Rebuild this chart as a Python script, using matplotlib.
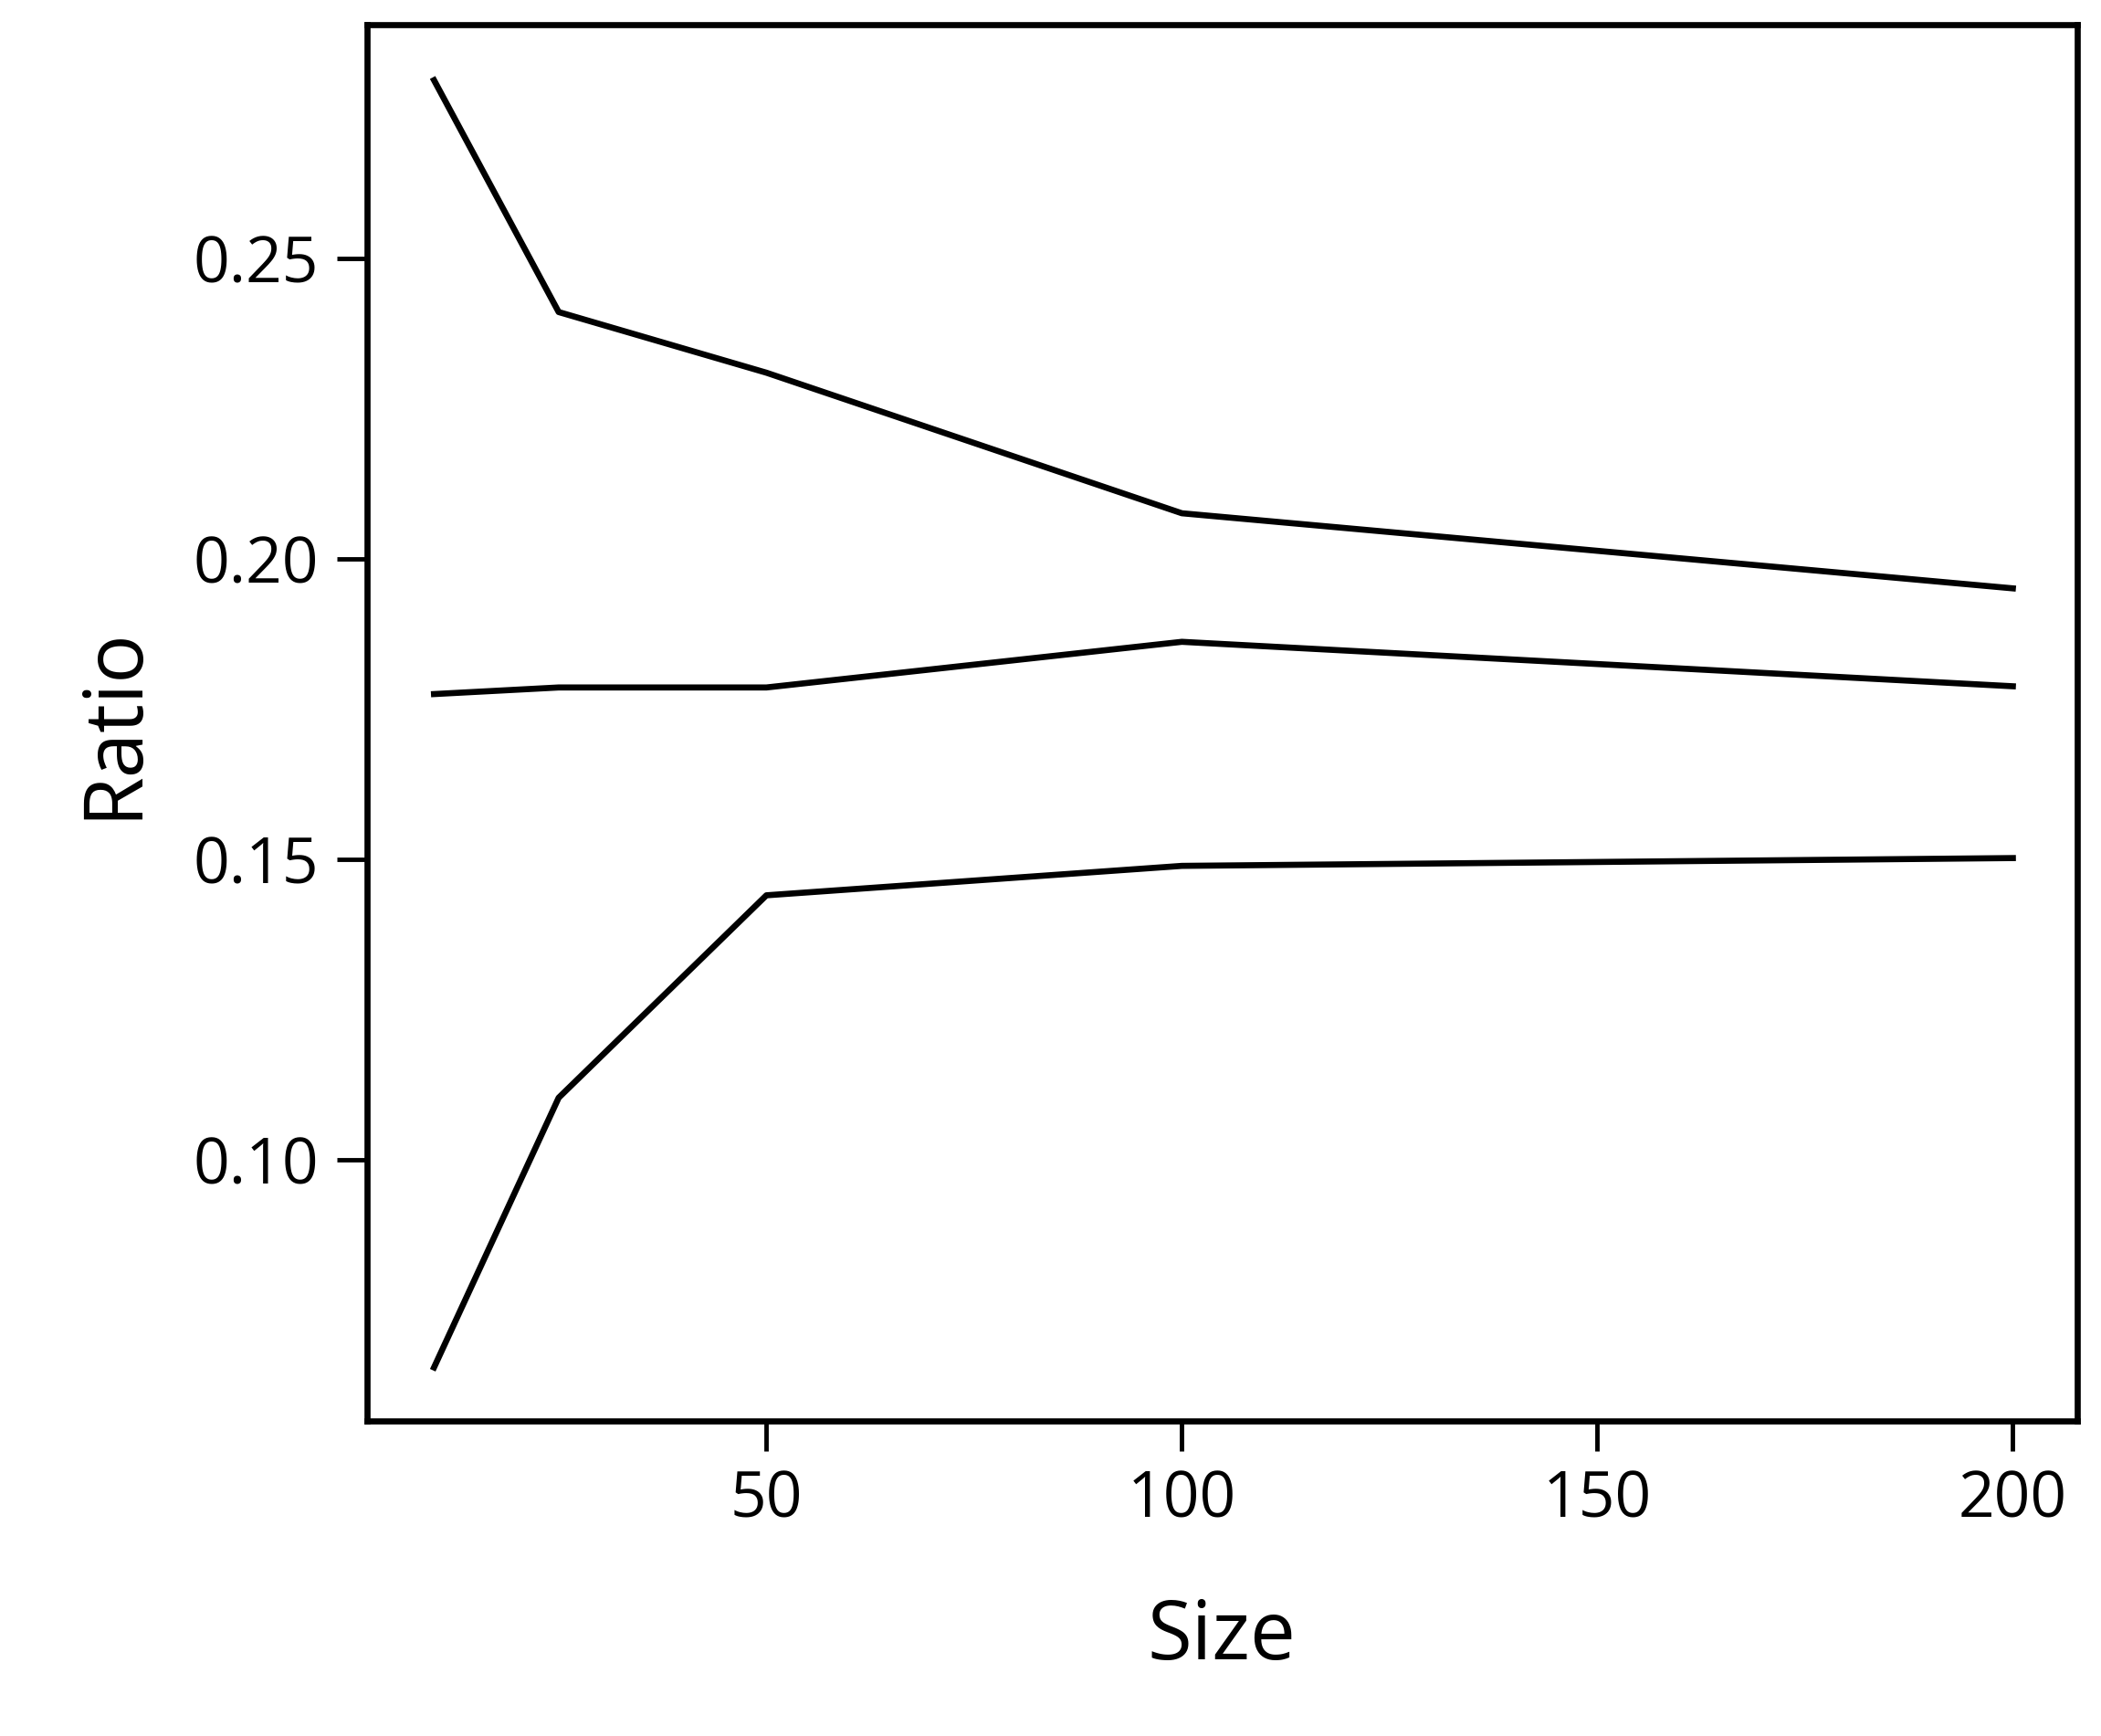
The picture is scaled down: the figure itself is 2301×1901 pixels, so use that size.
import matplotlib
matplotlib.use("Agg")
import matplotlib.pyplot as plt

size = [10, 25, 50, 100, 200]
upper = [0.2797, 0.2411, 0.2310, 0.2076, 0.1951]
middle = [0.1775, 0.1786, 0.1786, 0.1862, 0.1788]
lower = [0.0654, 0.1103, 0.1440, 0.1489, 0.1502]

plt.rcParams["font.family"] = ["Open Sans", "DejaVu Sans"]
fig = plt.figure(figsize=(23.01, 19.01), dpi=100)
ax = fig.add_axes([0.1747, 0.1815, 0.8138, 0.8045])

for ys in (upper, middle, lower):
    ax.plot(size, ys, color="black", lw=4.8)

ax.set_xlim(1.94, 207.7)
ax.set_ylim(0.0565, 0.289)
ax.set_xticks([50, 100, 150, 200])
ax.set_yticks([0.10, 0.15, 0.20, 0.25])
ax.set_yticklabels(["0.10", "0.15", "0.20", "0.25"])
for s in ax.spines.values():
    s.set_linewidth(4.8)
ax.tick_params(axis="both", direction="out", length=24, width=3.5, labelsize=50, pad=14)
ax.set_xlabel("Size", fontsize=64, labelpad=50)
ax.set_ylabel("Ratio", fontsize=64, labelpad=30)

fig.savefig("out.png", dpi=100)
